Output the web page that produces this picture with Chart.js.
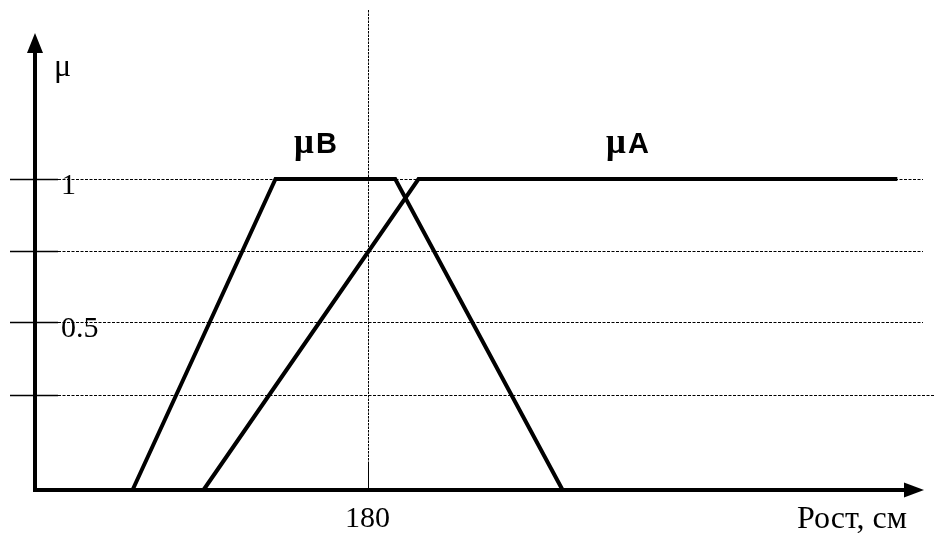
<!DOCTYPE html>
<html>
<head>
<meta charset="utf-8">
<script src="https://cdn.jsdelivr.net/npm/chart.js@4/dist/chart.umd.min.js"></script>
<style>
  html, body { margin: 0; padding: 0; background: #fff; }
  canvas { display: block; }
</style>
</head>
<body>
<canvas id="fuzzyChart" width="935" height="533"></canvas>
<script>
// height in cm and membership for the two fuzzy sets
const heightB = [158.8, 171.7, 182.5, 197.6];
const muB = [0, 1, 1, 0];
const heightA = [165.2, 184.6, 227.8];
const muA = [0, 1, 1];

// dashed levels on the mu axis and their labels
const muLevels = [0.305, 0.54, 0.768, 1];
const muLabels = ["", "0.5", "", "1"];

const heightMark = 180;
const heightMarkLabel = "180";
const xTitle = "Рост, см";
const yTitle = "μ";
const setLetters = ["B", "A"];

const toPoints = (xs, ys) => xs.map((x, i) => ({ x: x, y: ys[i] }));

const serif = "'Liberation Serif', 'DejaVu Serif', serif";
const sans = "'Liberation Sans', Arial, sans-serif";

const sketchAxes = {
  id: "sketchAxes",
  beforeDatasetsDraw(chart) {
    const ctx = chart.ctx;
    const xs = chart.scales.x;
    const ys = chart.scales.y;
    const y0 = ys.getPixelForValue(0);
    ctx.save();

    // dotted levels
    ctx.strokeStyle = "#000";
    ctx.lineWidth = 1;
    ctx.setLineDash([3, 1.5]);
    muLevels.forEach((v, i) => {
      const y = Math.round(ys.getPixelForValue(v)) + 0.5;
      ctx.beginPath();
      ctx.moveTo(58, y);
      ctx.lineTo(i === 0 ? 935 : 923, y);
      ctx.stroke();
    });

    // vertical mark at 180
    const xm = Math.round(xs.getPixelForValue(heightMark)) + 0.5;
    ctx.setLineDash([2.5, 1]);
    ctx.beginPath();
    ctx.moveTo(xm, 10);
    ctx.lineTo(xm, y0 - 28);
    ctx.stroke();
    ctx.setLineDash([]);
    ctx.beginPath();
    ctx.moveTo(xm, y0 - 28);
    ctx.lineTo(xm, y0);
    ctx.stroke();

    // short solid ticks on the mu axis
    ctx.lineWidth = 1.5;
    muLevels.forEach((v) => {
      const y = Math.round(ys.getPixelForValue(v)) + 0.5;
      ctx.beginPath();
      ctx.moveTo(10, y);
      ctx.lineTo(58, y);
      ctx.stroke();
    });
    ctx.restore();
  },
  afterDatasetsDraw(chart) {
    const ctx = chart.ctx;
    const xs = chart.scales.x;
    const ys = chart.scales.y;
    const x0 = xs.getPixelForValue(xs.min);
    const y0 = ys.getPixelForValue(0);
    ctx.save();
    ctx.strokeStyle = "#000";
    ctx.fillStyle = "#000";
    ctx.lineWidth = 4;

    // axes
    ctx.beginPath();
    ctx.moveTo(x0, y0);
    ctx.lineTo(x0, 50);
    ctx.moveTo(x0 - 2, y0);
    ctx.lineTo(906, y0);
    ctx.stroke();

    // arrow heads
    ctx.beginPath();
    ctx.moveTo(x0, 33);
    ctx.lineTo(x0 - 8, 53);
    ctx.lineTo(x0 + 8, 53);
    ctx.closePath();
    ctx.fill();
    ctx.beginPath();
    ctx.moveTo(924, y0);
    ctx.lineTo(904, y0 - 7.5);
    ctx.lineTo(904, y0 + 7.5);
    ctx.closePath();
    ctx.fill();

    // labels
    ctx.font = "32px " + serif;
    ctx.textBaseline = "alphabetic";
    ctx.textAlign = "left";
    ctx.fillText(yTitle, 54, 76);
    ctx.font = "30px " + serif;
    muLevels.forEach((v, i) => {
      if (!muLabels[i]) return;
      const y = ys.getPixelForValue(v);
      ctx.fillText(muLabels[i], 61, y + 15);
    });
    ctx.textAlign = "center";
    ctx.fillText(heightMarkLabel, xs.getPixelForValue(heightMark), 527);
    ctx.textAlign = "right";
    ctx.font = "32px " + serif;
    ctx.fillText(xTitle, 907, 528);

    // set names: mu + letter
    ctx.textAlign = "left";
    [[294, 316], [606, 628]].forEach((pos, i) => {
      ctx.font = "bold 35px " + serif;
      ctx.fillText("μ", pos[0], 153);
      ctx.font = "bold 29px " + sans;
      ctx.fillText(setLetters[i], pos[1], 153);
    });
    ctx.restore();
  },
};

new Chart(document.getElementById("fuzzyChart").getContext("2d"), {
  type: "scatter",
  data: {
    datasets: [
      {
        label: "μB",
        data: toPoints(heightB, muB),
        showLine: true,
        borderColor: "#000",
        borderWidth: 4,
        pointRadius: 0,
        tension: 0,
        clip: false,
      },
      {
        label: "μA",
        data: toPoints(heightA, muA),
        showLine: true,
        borderColor: "#000",
        borderWidth: 4,
        pointRadius: 0,
        tension: 0,
        clip: false,
      },
    ],
  },
  options: {
    responsive: false,
    animation: false,
    layout: {
      padding: { left: 35, right: 13.3, top: 23.5, bottom: 43 },
    },
    scales: {
      x: { type: "linear", min: 150, max: 230, display: false },
      y: { type: "linear", min: 0, max: 1.5, display: false },
    },
    plugins: {
      legend: { display: false },
      tooltip: { enabled: false },
    },
  },
  plugins: [sketchAxes],
});
</script>
</body>
</html>
